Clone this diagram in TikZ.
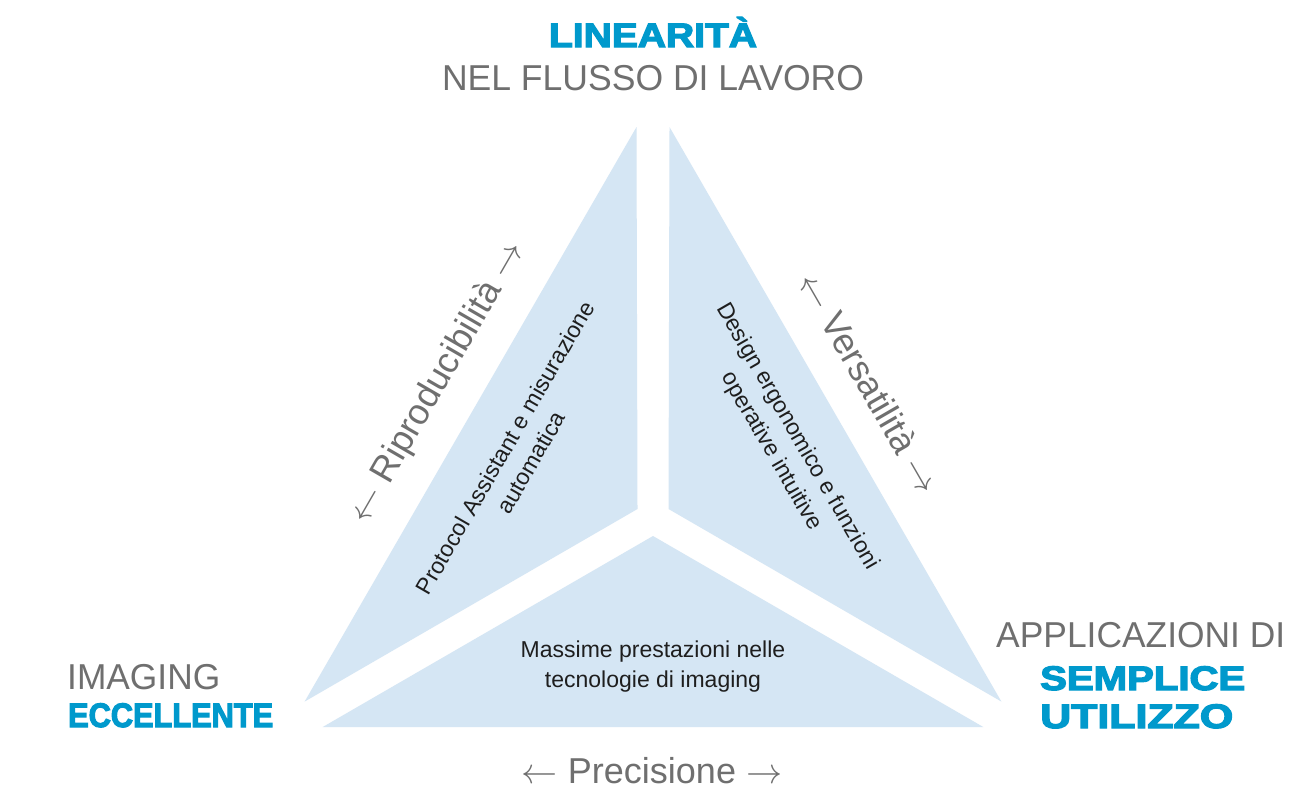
\documentclass[tikz,border=0pt]{standalone}
\usepackage{fontspec}
\usepackage{graphicx}
\newfontfamily\ltf{Liberation Sans}
\newfontfamily\blkf{Liberation Sans Bold}[FakeBold=3.5]
\definecolor{blu}{HTML}{0099CC}
\definecolor{gr}{HTML}{6F6F6F}
\definecolor{pc}{HTML}{D5E6F4}
\definecolor{ink}{HTML}{1E1E1E}
\newcommand{\fitw}[2]{\resizebox{#1}{\height}{#2}}
\newcommand{\larr}{{\fontsize{24.88}{25}\selectfont\scalebox{1.45}{$\leftarrow$}}}
\newcommand{\rarr}{{\fontsize{24.88}{25}\selectfont\scalebox{1.45}{$\rightarrow$}}}
\tikzset{
  piece/.style={fill=pc, draw=none},
  graytxt/.style={text=gr, font=\ltf\fontsize{36}{36}\selectfont, inner sep=0pt},
  head/.style={text=blu, font=\blkf\fontsize{34}{34}\selectfont, inner sep=0pt},
  innertxt/.style={text=ink, font=\ltf\fontsize{23}{30}\selectfont, align=center, inner sep=0pt}
}
\begin{document}
\begin{tikzpicture}[x=1pt,y=-1pt]
\fill[white] (0,0) rectangle (1289,787);
\useasboundingbox (0,0) rectangle (1289,787);
% three pieces of the triangle
\fill[piece] (636.5,127) -- (304.6,701.6) -- (637.5,509) -- cycle;
\fill[piece] (669.5,127) -- (1001.4,701.6) -- (668.5,509) -- cycle;
\fill[piece] (653,536) -- (322.7,727) -- (983.3,727) -- cycle;
% corner headings
\node[head, anchor=base] (lin) at (653,47) {\fitw{208pt}{LINEARITÀ}};
\node[graytxt, anchor=base] (nel) at (653,90) {\fitw{422pt}{NEL FLUSSO DI LAVORO}};
\node[graytxt, anchor=base west] (ima) at (67,689) {\fitw{153pt}{IMAGING}};
\node[head, anchor=base west] (ecc) at (68,727) {\fitw{205pt}{ECCELLENTE}};
\node[graytxt, anchor=base west] (app) at (996,647) {\fitw{289pt}{APPLICAZIONI DI}};
\node[head, anchor=base west] (sem) at (1040,690) {\fitw{205pt}{SEMPLICE}};
\node[head, anchor=base west] (uti) at (1040,728) {\fitw{193pt}{UTILIZZO}};
% side labels
\node[graytxt, rotate=60] (rip) at (437.5,382.5) {\larr{} Riproducibilità \rarr};
\node[graytxt, rotate=-60] (ver) at (870,382.5) {\larr{} Versatilità \rarr};
\node[graytxt] (pre) at (652,771) {\larr{} Precisione \rarr};
% inner texts
\node[innertxt, rotate=60] (prot) at (518,455) {Protocol Assistant e misurazione\\automatica};
\node[innertxt, rotate=-60] (des) at (784,444) {Design ergonomico e funzioni\\operative intuitive};
\node[innertxt] (mas) at (653,667) {Massime prestazioni nelle\\tecnologie di imaging};
\end{tikzpicture}
\end{document}
